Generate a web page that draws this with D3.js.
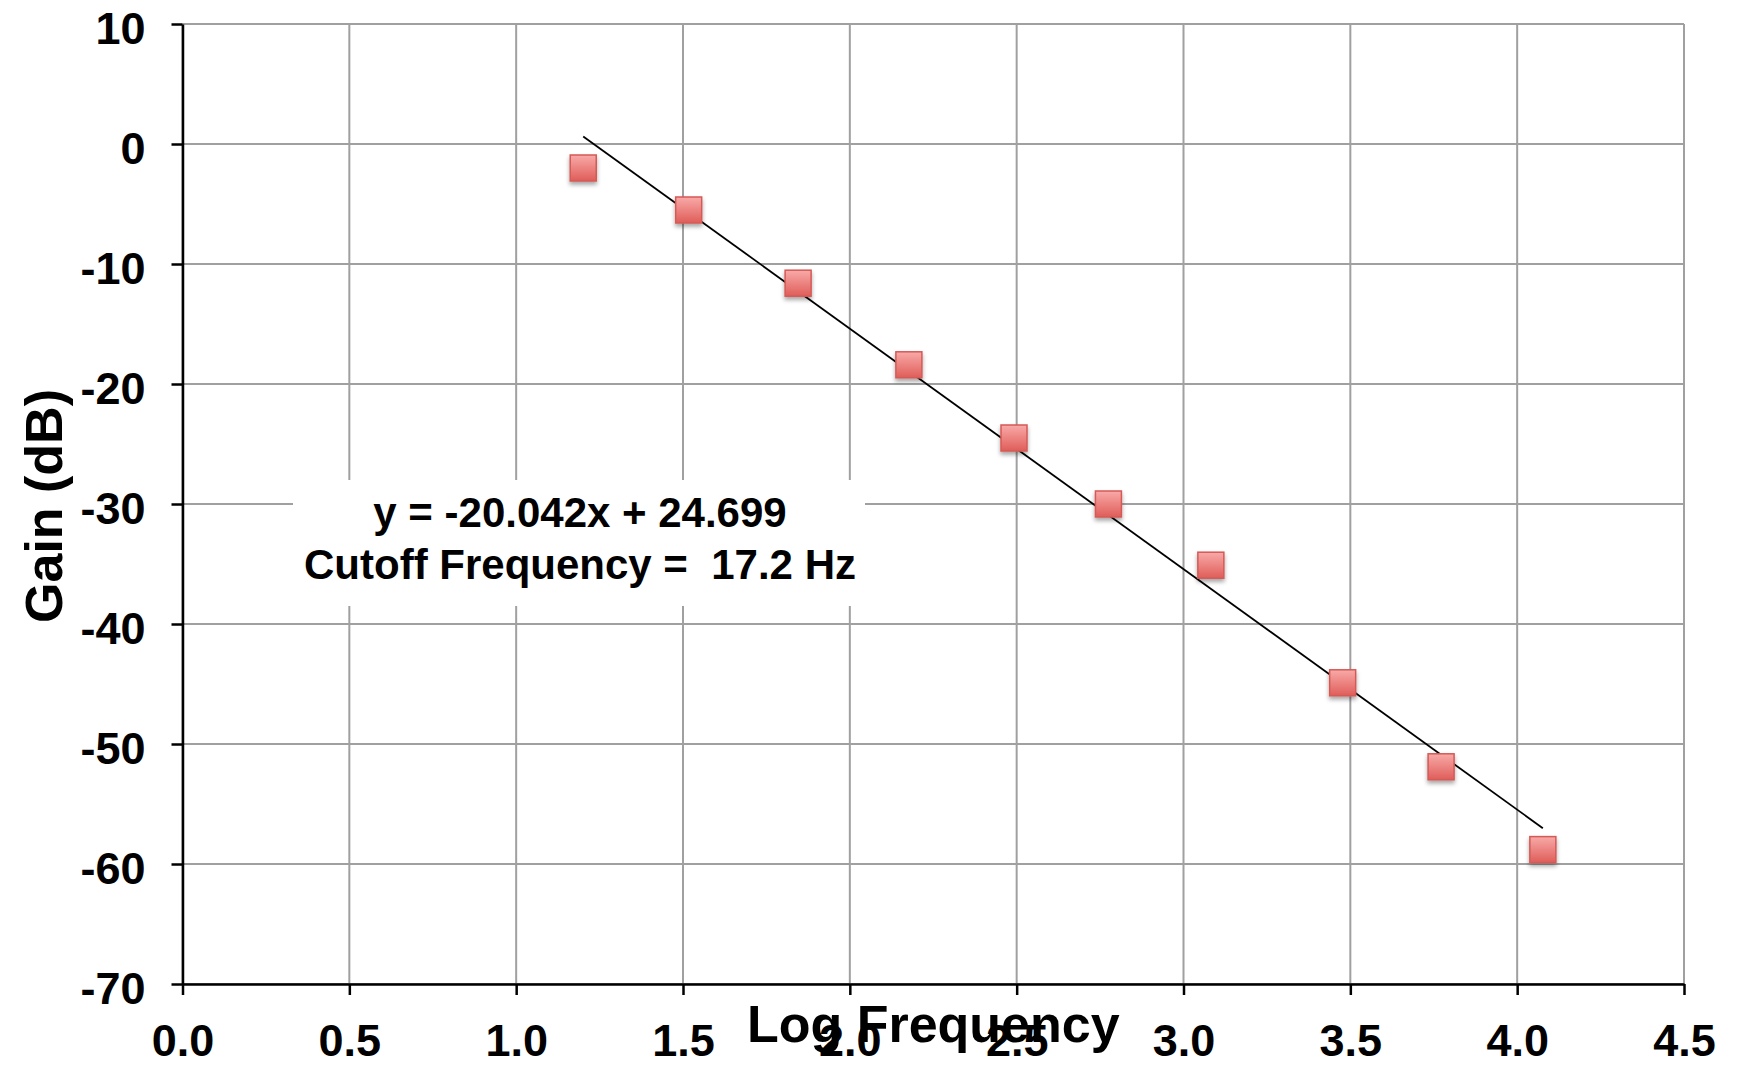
<!DOCTYPE html>
<html>
<head>
<meta charset="utf-8">
<script src="https://cdn.jsdelivr.net/npm/d3@7"></script>
<style>
  body { margin: 0; background: #fff; }
  text { font-family: "Liberation Sans", Arial, Helvetica, sans-serif; font-weight: bold; fill: #000; }
</style>
</head>
<body>
<div id="chartDiv"></div>
<script>
// measured gain vs log10 frequency
var logFreq = [1.201, 1.517, 1.845, 2.177, 2.492, 2.775, 3.082, 3.477, 3.772, 4.077];
var gainDb = [-2.0, -5.5, -11.6, -18.4, -24.5, -30.0, -35.1, -44.9, -51.9, -58.8];

var xTicks = [0, 0.5, 1, 1.5, 2, 2.5, 3, 3.5, 4, 4.5];
var yTicks = [10, 0, -10, -20, -30, -40, -50, -60, -70];

var fitSlope = -20.042;
var fitIntercept = 24.699;
var annotationLines = ["y = -20.042x + 24.699", "Cutoff Frequency =  17.2 Hz"];

var xAxisLabelHeader = "Log Frequency";
var yAxisLabelHeader = "Gain (dB)";

var width = 1737;
var height = 1065;
var margin = { top: 24, right: 53, bottom: 81, left: 182.5 };
var chartWidth = width - margin.left - margin.right;
var chartHeight = height - margin.top - margin.bottom;
var markerSize = 26;

var x = d3.scaleLinear().domain([0, 4.5]).range([0, chartWidth]);
var y = d3.scaleLinear().domain([-70, 10]).range([chartHeight, 0]);

var chart = d3.select("#chartDiv").append("svg")
    .attr("width", width)
    .attr("height", height);

var defs = chart.append("defs");
var grad = defs.append("linearGradient")
    .attr("id", "markerFill")
    .attr("x1", 0).attr("y1", 0).attr("x2", 0).attr("y2", 1);
grad.append("stop").attr("offset", "0%").attr("stop-color", "#f8aaa8");
grad.append("stop").attr("offset", "100%").attr("stop-color", "#df5d59");

var shadow = defs.append("filter")
    .attr("id", "markerShadow")
    .attr("x", "-50%").attr("y", "-50%").attr("width", "200%").attr("height", "200%");
shadow.append("feDropShadow")
    .attr("dx", 0).attr("dy", 3)
    .attr("stdDeviation", 2)
    .attr("flood-color", "#000")
    .attr("flood-opacity", 0.35);

var plotArea = chart.append("g")
    .attr("transform", "translate(" + margin.left + "," + margin.top + ")");

// gridlines
plotArea.selectAll(".hgrid")
    .data(yTicks)
    .enter().append("line")
    .attr("class", "hgrid")
    .attr("x1", 0).attr("x2", chartWidth)
    .attr("y1", function(d) { return y(d); })
    .attr("y2", function(d) { return y(d); })
    .style("stroke", "#a0a0a0")
    .style("stroke-width", 2);

plotArea.selectAll(".vgrid")
    .data(xTicks)
    .enter().append("line")
    .attr("class", "vgrid")
    .attr("y1", 0).attr("y2", chartHeight)
    .attr("x1", function(d) { return x(d); })
    .attr("x2", function(d) { return x(d); })
    .style("stroke", "#a0a0a0")
    .style("stroke-width", 2);

// trendline label box
plotArea.append("rect")
    .attr("x", 293 - margin.left)
    .attr("y", 480 - margin.top)
    .attr("width", 572)
    .attr("height", 126)
    .style("fill", "#fff");

plotArea.selectAll(".annot")
    .data(annotationLines)
    .enter().append("text")
    .attr("class", "annot")
    .attr("text-anchor", "middle")
    .attr("x", 580 - margin.left)
    .attr("y", function(d, i) { return 527 - margin.top + i * 52; })
    .style("font-size", "42px")
    .style("white-space", "pre")
    .text(function(d) { return d; });

// axes
var xAxis = d3.axisBottom(x)
    .tickValues(xTicks)
    .tickSize(11)
    .tickSizeOuter(0)
    .tickPadding(0)
    .tickFormat(d3.format(".1f"));

var xAxisG = plotArea.append("g")
    .attr("class", "x axis")
    .attr("transform", "translate(0," + chartHeight + ")")
    .call(xAxis);

xAxisG.selectAll("text")
    .attr("y", 72)
    .attr("dy", 0)
    .style("font-size", "45px");

var yAxis = d3.axisLeft(y)
    .tickValues(yTicks)
    .tickSize(11)
    .tickSizeOuter(0)
    .tickPadding(26)
    .tickFormat(function(d) { return String(d); });

var yAxisG = plotArea.append("g")
    .attr("class", "y axis")
    .call(yAxis);

yAxisG.selectAll("text")
    .attr("dy", 19)
    .style("font-size", "45px");

chart.selectAll(".axis path, .axis line")
    .style("stroke", "#000")
    .style("stroke-width", 2.5);

// trendline
var xMin = d3.min(logFreq);
var xMax = d3.max(logFreq);
plotArea.append("line")
    .attr("x1", x(xMin))
    .attr("y1", y(fitSlope * xMin + fitIntercept))
    .attr("x2", x(xMax))
    .attr("y2", y(fitSlope * xMax + fitIntercept))
    .style("stroke", "#000")
    .style("stroke-width", 1.8);

// markers
var pts = logFreq.map(function(v, i) { return { xVal: v, yVal: gainDb[i] }; });
plotArea.selectAll(".dot")
    .data(pts)
    .enter().append("rect")
    .attr("class", "dot")
    .attr("x", function(d) { return x(d.xVal) - markerSize / 2; })
    .attr("y", function(d) { return y(d.yVal) - markerSize / 2; })
    .attr("width", markerSize)
    .attr("height", markerSize)
    .style("fill", "url(#markerFill)")
    .style("stroke", "#d55a56")
    .style("stroke-width", 1.5)
    .attr("filter", "url(#markerShadow)");

// axis titles
chart.append("text")
    .attr("text-anchor", "middle")
    .attr("x", margin.left + chartWidth / 2)
    .attr("y", 1042)
    .style("font-size", "52px")
    .text(xAxisLabelHeader);

chart.append("text")
    .attr("text-anchor", "middle")
    .attr("transform", "translate(62," + (margin.top + chartHeight / 2 + 2) + ") rotate(-90)")
    .style("font-size", "52px")
    .text(yAxisLabelHeader);
</script>
</body>
</html>
